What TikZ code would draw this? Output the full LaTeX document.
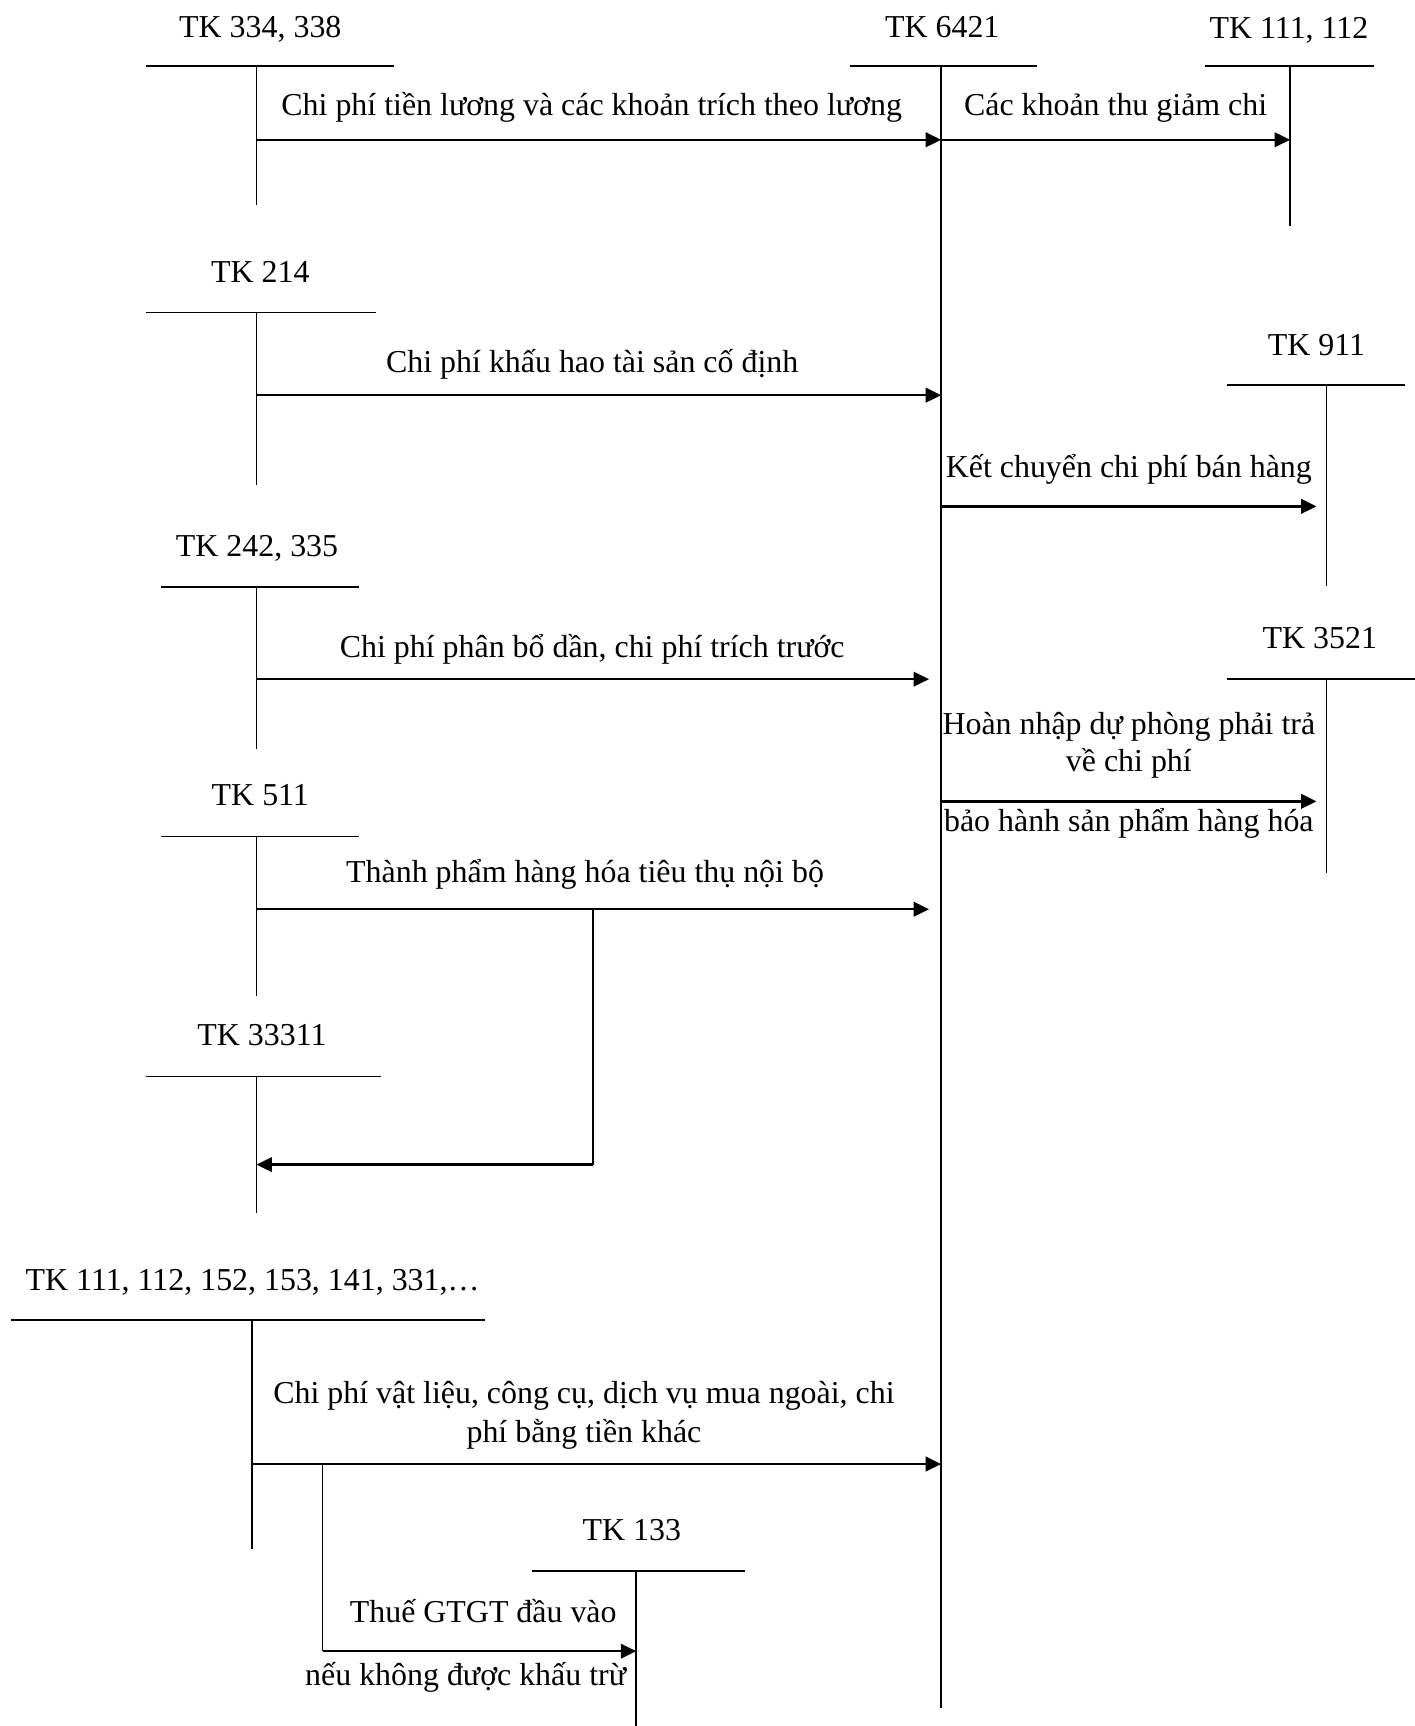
\documentclass[tikz,border=0pt]{standalone}
\usepackage{fontspec}
\setmainfont{Liberation Serif}
\usetikzlibrary{arrows.meta}
\tikzset{
  tline/.style={line width=0.9pt},
  flow/.style={line width=1.2pt,-{Triangle[length=8pt,width=7.5pt]}},
  plain/.style={line width=1.2pt},
  lbl/.style={font=\fontsize{16.5pt}{19pt}\selectfont, inner sep=0pt, anchor=base},
}
\begin{document}
\begin{tikzpicture}[x=0.02cm,y=-0.02cm]
\useasboundingbox (0,0) rectangle (1285,1568);

% ---------- T accounts ----------
% TK 334, 338
\node[lbl] (l334) at (236.5,34) {TK 334, 338};
\coordinate (a334L) at (133,60); \coordinate (a334R) at (358,60);
\coordinate (a334T) at (233,60); \coordinate (a334B) at (233,186);
\draw[tline] (a334L) -- (a334R); \draw[tline] (a334T) -- (a334B);

% TK 6421
\node[lbl] (l6421) at (856,34) {TK 6421};
\coordinate (a6421L) at (772,60); \coordinate (a6421R) at (942,60);
\coordinate (a6421T) at (855,60); \coordinate (a6421B) at (855,1552);
\draw[tline] (a6421L) -- (a6421R); \draw[tline] (a6421T) -- (a6421B);

% TK 111, 112
\node[lbl] (l111) at (1171,35) {TK 111, 112};
\coordinate (a111L) at (1095,60); \coordinate (a111R) at (1248,60);
\coordinate (a111T) at (1172,60); \coordinate (a111B) at (1172,205);
\draw[tline] (a111L) -- (a111R); \draw[tline] (a111T) -- (a111B);

% TK 214
\node[lbl] (l214) at (236.5,257) {TK 214};
\coordinate (a214L) at (133,284); \coordinate (a214R) at (342,284);
\coordinate (a214T) at (233,284); \coordinate (a214B) at (233,441);
\draw[tline] (a214L) -- (a214R); \draw[tline] (a214T) -- (a214B);

% TK 911
\node[lbl] (l911) at (1196,323) {TK 911};
\coordinate (a911L) at (1115,350); \coordinate (a911R) at (1276,350);
\coordinate (a911T) at (1205,350); \coordinate (a911B) at (1205,532);
\draw[tline] (a911L) -- (a911R); \draw[tline] (a911T) -- (a911B);

% TK 242, 335
\node[lbl] (l242) at (233.5,506) {TK 242, 335};
\coordinate (a242L) at (146,533); \coordinate (a242R) at (326,533);
\coordinate (a242T) at (233,533); \coordinate (a242B) at (233,680);
\draw[tline] (a242L) -- (a242R); \draw[tline] (a242T) -- (a242B);

% TK 3521
\node[lbl] (l3521) at (1199,589) {TK 3521};
\coordinate (a3521L) at (1115,617); \coordinate (a3521R) at (1285,617);
\coordinate (a3521T) at (1205,617); \coordinate (a3521B) at (1205,793);
\draw[tline] (a3521L) -- (a3521R); \draw[tline] (a3521T) -- (a3521B);

% TK 511
\node[lbl] (l511) at (236.5,732) {TK 511};
\coordinate (a511L) at (146,760); \coordinate (a511R) at (326,760);
\coordinate (a511T) at (233,760); \coordinate (a511B) at (233,905);
\draw[tline] (a511L) -- (a511R); \draw[tline] (a511T) -- (a511B);

% TK 33311
\node[lbl] (l33311) at (238,950) {TK 33311};
\coordinate (a333L) at (133,978); \coordinate (a333R) at (346,978);
\coordinate (a333T) at (233,978); \coordinate (a333B) at (233,1102);
\draw[tline] (a333L) -- (a333R); \draw[tline] (a333T) -- (a333B);

% TK 111, 112, 152, ...
\node[lbl] (lmulti) at (229.5,1172) {TK 111, 112, 152, 153, 141, 331,\ldots};
\coordinate (amL) at (10,1199); \coordinate (amR) at (441,1199);
\coordinate (amT) at (229,1199); \coordinate (amB) at (229,1407);
\draw[tline] (amL) -- (amR); \draw[tline] (amT) -- (amB);

% TK 133
\node[lbl] (l133) at (574,1399.5) {TK 133};
\coordinate (a133L) at (483,1427); \coordinate (a133R) at (677,1427);
\coordinate (a133T) at (578,1427); \coordinate (a133B) at (578,1568);
\draw[tline] (a133L) -- (a133R); \draw[tline] (a133T) -- (a133B);

% ---------- Flows ----------
\coordinate (f1s) at (233,127); \coordinate (f1e) at (855,127);
\draw[flow] (f1s) -- (f1e);
\node[lbl] (t1) at (537.5,104.5) {Chi phí tiền lương và các khoản trích theo lương};

\coordinate (f2s) at (855,127); \coordinate (f2e) at (1172,127);
\draw[flow] (f2s) -- (f2e);
\node[lbl] (t2) at (1013.5,104.5) {Các khoản thu giảm chi};

\coordinate (f3s) at (233,359); \coordinate (f3e) at (855,359);
\draw[flow] (f3s) -- (f3e);
\node[lbl] (t3) at (538,338) {Chi phí khấu hao tài sản cố định};

\coordinate (f4s) at (855,460); \coordinate (f4e) at (1196,460);
\draw[flow] (f4s) -- (f4e);
\node[lbl] (t4) at (1025.5,433.6) {Kết chuyển chi phí bán hàng};

\coordinate (f5s) at (233,617); \coordinate (f5e) at (844,617);
\draw[flow] (f5s) -- (f5e);
\node[lbl] (t5) at (538,597) {Chi phí phân bổ dần, chi phí trích trước};

\coordinate (f6s) at (855,728); \coordinate (f6e) at (1196,728);
\draw[flow] (f6s) -- (f6e);
\node[lbl] (t6a) at (1025.5,667) {Hoàn nhập dự phòng phải trả};
\node[lbl] (t6b) at (1025.5,701) {về chi phí};
\node[lbl] (t6c) at (1025.5,755) {bảo hành sản phẩm hàng hóa};

\coordinate (f7s) at (233,826); \coordinate (f7e) at (844,826);
\draw[flow] (f7s) -- (f7e);
\node[lbl] (t7) at (531.5,802) {Thành phẩm hàng hóa tiêu thụ nội bộ};

\coordinate (f8a) at (539,826); \coordinate (f8b) at (539,1058); \coordinate (f8e) at (233,1058);
\draw[plain] (f8a) -- (f8b);
\draw[flow] (f8b) -- (f8e);

\coordinate (f9s) at (229,1330); \coordinate (f9e) at (855,1330);
\draw[flow] (f9s) -- (f9e);
\node[lbl] (t9a) at (530.5,1275) {Chi phí vật liệu, công cụ, dịch vụ mua ngoài, chi};
\node[lbl] (t9b) at (530.5,1310) {phí bằng tiền khác};

\coordinate (f10a) at (293,1330); \coordinate (f10b) at (293,1500); \coordinate (f10e) at (578,1500);
\draw[tline] (f10a) -- (f10b);
\draw[flow] (f10b) -- (f10e);
\node[lbl] (t10a) at (439,1473.7) {Thuế GTGT đầu vào};
\node[lbl] (t10b) at (423,1531) {nếu không được khấu trừ};
\end{tikzpicture}
\end{document}
